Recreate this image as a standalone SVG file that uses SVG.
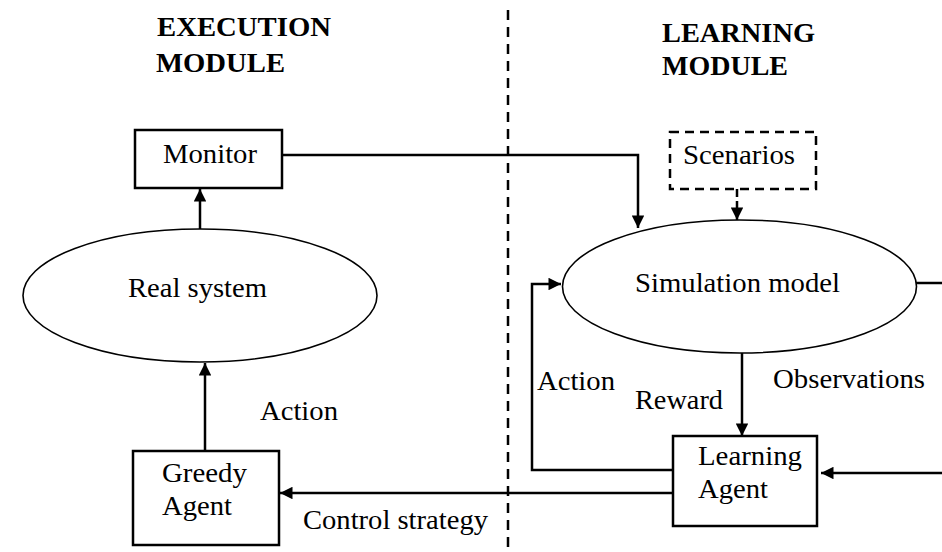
<svg xmlns="http://www.w3.org/2000/svg" width="942" height="552" viewBox="0 0 942 552">
<style>
text{font-family:"Liberation Serif","Times New Roman",serif;font-size:27px;fill:#000}
.t{font-weight:bold;font-size:28px}
.box{fill:#fff;stroke:#000;stroke-width:2.5}
.dbox{fill:#fff;stroke:#000;stroke-width:2.5;stroke-dasharray:9 6}
.ell{fill:#fff;stroke:#000;stroke-width:1.6}
.ln{fill:none;stroke:#000;stroke-width:2.5}
.dl{fill:none;stroke:#000;stroke-width:2.5;stroke-dasharray:10 7}
</style>
<defs>
<marker id="ah" viewBox="0 0 10 10" refX="10" refY="5" markerWidth="5.5" markerHeight="5" markerUnits="strokeWidth" orient="auto">
<path d="M0,0 L10,5 L0,10 z" fill="#000"/>
</marker>
</defs>
<rect width="942" height="552" fill="#fff"/>
<g id="divider">
<line class="dl" x1="508" y1="10" x2="508" y2="552"/>
</g>
<g id="titles">
<text class="t" x="157" y="36" textLength="174" lengthAdjust="spacingAndGlyphs">EXECUTION</text>
<text class="t" x="156" y="72" textLength="129" lengthAdjust="spacingAndGlyphs">MODULE</text>
<text class="t" x="662" y="42" textLength="153" lengthAdjust="spacingAndGlyphs">LEARNING</text>
<text class="t" x="662" y="75" textLength="126" lengthAdjust="spacingAndGlyphs">MODULE</text>
</g>
<g id="connectors">
<line class="ln" x1="200" y1="229" x2="200" y2="189" marker-end="url(#ah)"/>
<line class="ln" x1="205" y1="451" x2="205" y2="363" marker-end="url(#ah)"/>
<polyline class="ln" points="282,155 638,155 638,228" marker-end="url(#ah)"/>
<line class="dl" x1="737" y1="189" x2="737" y2="220" style="stroke-dasharray:8 4" marker-end="url(#ah)"/>
<line class="ln" x1="742" y1="353" x2="742" y2="436" marker-end="url(#ah)"/>
<polyline class="ln" points="673,470 532,470 532,284 561,284" marker-end="url(#ah)"/>
<line class="ln" x1="673" y1="493" x2="280" y2="493" marker-end="url(#ah)"/>
<line class="ln" x1="916" y1="283" x2="942" y2="283"/>
<line class="ln" x1="942" y1="473" x2="821" y2="473" marker-end="url(#ah)"/>
<text x="260" y="420" textLength="78" lengthAdjust="spacingAndGlyphs">Action</text>
<text x="303" y="529" textLength="185" lengthAdjust="spacingAndGlyphs">Control strategy</text>
<text x="537" y="390" textLength="78" lengthAdjust="spacingAndGlyphs">Action</text>
<text x="635" y="409" textLength="88" lengthAdjust="spacingAndGlyphs">Reward</text>
<text x="773" y="388" textLength="152" lengthAdjust="spacingAndGlyphs">Observations</text>
</g>
<g id="monitor">
<rect class="box" x="135" y="130" width="147" height="58"/>
<text x="163" y="163" textLength="94" lengthAdjust="spacingAndGlyphs">Monitor</text>
</g>
<g id="real-system">
<ellipse class="ell" cx="200" cy="295.5" rx="177" ry="66.5"/>
<text x="128" y="297" textLength="139" lengthAdjust="spacingAndGlyphs">Real system</text>
</g>
<g id="greedy-agent">
<rect class="box" x="133" y="451" width="146" height="94"/>
<text x="162" y="482" textLength="85" lengthAdjust="spacingAndGlyphs">Greedy</text>
<text x="162" y="515" textLength="70" lengthAdjust="spacingAndGlyphs">Agent</text>
</g>
<g id="scenarios">
<rect class="dbox" x="670" y="132" width="146" height="57"/>
<text x="683" y="164" textLength="112" lengthAdjust="spacingAndGlyphs">Scenarios</text>
</g>
<g id="simulation-model">
<ellipse class="ell" cx="739.5" cy="286.5" rx="177" ry="66.5"/>
<text x="635" y="292" textLength="205" lengthAdjust="spacingAndGlyphs">Simulation model</text>
</g>
<g id="learning-agent">
<rect class="box" x="673" y="436" width="144" height="90"/>
<text x="698" y="465" textLength="104" lengthAdjust="spacingAndGlyphs">Learning</text>
<text x="698" y="498" textLength="70" lengthAdjust="spacingAndGlyphs">Agent</text>
</g>
</svg>
